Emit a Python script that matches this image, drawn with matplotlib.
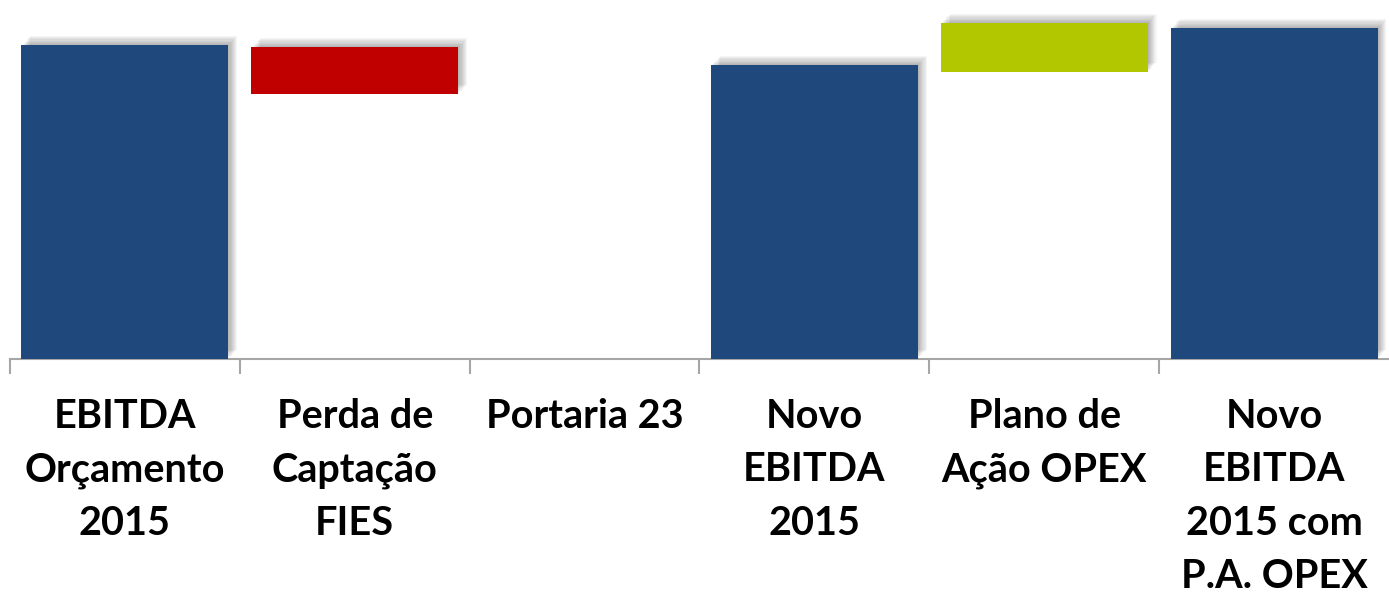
import matplotlib.pyplot as plt
import matplotlib.patheffects as pe

categorias = ['EBITDA\nOrçamento\n2015', 'Perda de\nCaptação\nFIES', 'Portaria 23',
              'Novo\nEBITDA\n2015', 'Plano de\nAção OPEX', 'Novo\nEBITDA\n2015 com\nP.A. OPEX']
base = [0, 265, 0, 0, 287, 0]
topo = [314, 312, 0, 294, 336, 331]
cores = ['#1f497d', '#c00000', '#1f497d', '#1f497d', '#b3c700', '#1f497d']

plt.rcParams['font.family'] = ['Lato', 'DejaVu Sans']

fig = plt.figure(figsize=(13.89, 6.05), dpi=100)
ax = fig.add_axes([10 / 1389, 1 - 359 / 605, 1 - 10 / 1389, 359 / 605])

# sombra suave (varias camadas deslocadas para cima/direita)
sombra = []
for k in range(1, 9):
    sombra.append(pe.SimplePatchShadow(offset=(k * 0.8, k * 0.8), shadow_rgbFace='k', alpha=0.04))
sombra.append(pe.Normal())

x = list(range(len(categorias)))
alturas = [t - b for t, b in zip(topo, base)]
barras = ax.bar(x, alturas, bottom=base, width=0.9, color=cores, zorder=3)
for b, h in zip(barras, alturas):
    if h > 0:
        b.set_path_effects(sombra)

ax.set_xlim(-0.5, 5.5)
ax.set_ylim(0, 359)

for s in ['top', 'right', 'left']:
    ax.spines[s].set_visible(False)
ax.spines['bottom'].set_color('#a6a6a6')
ax.spines['bottom'].set_linewidth(1.5)
ax.set_yticks([])

ax.set_xticks([i - 0.5 for i in range(6)])
ax.set_xticklabels([])
ax.tick_params(axis='x', which='major', length=11, width=1.5, color='#a6a6a6')
ax.set_xticks(x, minor=True)
ax.set_xticklabels(categorias, minor=True, fontsize=28.5, fontweight='bold', linespacing=1.55)
ax.tick_params(axis='x', which='minor', length=0, pad=28)
for lbl in ax.get_xticklabels(minor=True):
    lbl.set_verticalalignment('top')

fig.savefig('out.png', dpi=100)
